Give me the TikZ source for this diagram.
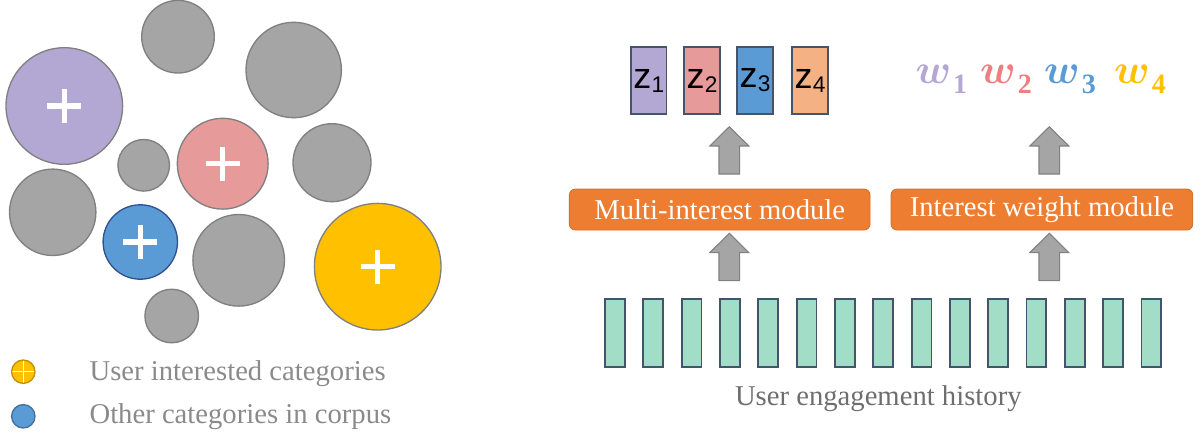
\documentclass[tikz,border=0pt]{standalone}
\usepackage[no-math]{fontspec}
\usepackage{graphicx}
\setmainfont{Liberation Serif}
\newfontfamily\arialfont{Liberation Sans}

\definecolor{catgray}{HTML}{A5A5A5}
\definecolor{catedge}{HTML}{808080}
\definecolor{catpurple}{HTML}{B3A7D4}
\definecolor{catpink}{HTML}{E69A99}
\definecolor{catblue}{HTML}{5B9BD5}
\definecolor{catblueedge}{HTML}{2F528F}
\definecolor{catyellow}{HTML}{FFC000}
\definecolor{legyellowedge}{HTML}{BF9000}
\definecolor{legblueedge}{HTML}{41719C}
\definecolor{zorange}{HTML}{F4B183}
\definecolor{slate}{HTML}{44546A}
\definecolor{mint}{HTML}{A2DDC8}
\definecolor{modorange}{HTML}{ED7D31}
\definecolor{modedge}{HTML}{C9712F}
\definecolor{wpink}{HTML}{EE7F80}
\definecolor{legtext}{HTML}{8A8A8A}
\definecolor{histtext}{HTML}{6E6E6E}

\newcommand{\zlabel}[1]{{\arialfont\fontsize{27pt}{27pt}\selectfont z\kern0.3pt\raisebox{-3pt}{\fontsize{17pt}{17pt}\selectfont #1}}}
\newcommand{\wlabel}[1]{{\scalebox{1.25}{\fontsize{24.88pt}{26pt}\selectfont\boldmath$w$}\kern1.5pt\raisebox{-7.5pt}{\fontsize{21pt}{21pt}\selectfont\bfseries #1}}}

\tikzset{
  cat/.style={circle, inner sep=0pt, minimum size=#1*1.5pt, draw=catedge, line width=1pt},
  graycat/.style={cat=#1, fill=catgray},
  plusmark/.style={path picture={
      \fill[white] ([xshift=-12.75pt,yshift=-1.9pt]path picture bounding box.center)
                   rectangle ([xshift=12.75pt,yshift=1.9pt]path picture bounding box.center);
      \fill[white] ([xshift=-1.9pt,yshift=-12.75pt]path picture bounding box.center)
                   rectangle ([xshift=1.9pt,yshift=12.75pt]path picture bounding box.center);}},
  legplus/.style={path picture={
      \draw[white, line width=0.9pt]
        ([xshift=-9pt]path picture bounding box.center) -- ([xshift=9pt]path picture bounding box.center)
        ([yshift=-9pt]path picture bounding box.center) -- ([yshift=9pt]path picture bounding box.center);}},
  zbox/.style={draw=slate, line width=1.3pt, fill=#1, minimum width=26.6pt, minimum height=50.7pt, inner sep=0pt},
  histbar/.style={draw=slate, line width=1.3pt, fill=mint, minimum width=14.8pt, minimum height=50.5pt, inner sep=0pt},
  module/.style={draw=modedge, line width=0.6pt, fill=modorange, rounded corners=4.5pt,
      minimum height=30.75pt, inner sep=0pt, text=white, font=\fontsize{21.5pt}{21.5pt}\selectfont},
  legtxt/.style={anchor=base west, inner sep=0pt, text=legtext, font=\fontsize{21.5pt}{21.5pt}\selectfont},
  uparrow/.pic={
    \draw[draw=catedge, fill=catgray, line width=0.8pt, line join=miter]
      (0,0) -- (19.5,19.3) -- (10.3,19.3) -- (10.3,47.3) -- (-10.3,47.3)
      -- (-10.3,19.3) -- (-19.5,19.3) -- cycle;}
}

\begin{document}
\begin{tikzpicture}[x=0.75pt, y=-0.75pt]
\useasboundingbox (0,0) rectangle (1201,435);

% category bubbles
\node[graycat=36.3] (g1) at (178,36.7) {};
\node[graycat=47.7] (g2) at (293.7,70) {};
\node[cat=58.3, fill=catpurple, plusmark] (cpurple) at (64.3,106) {};
\node[graycat=25.8] (g3) at (143.7,165.3) {};
\node[cat=45.4, fill=catpink, plusmark] (cpink) at (222.7,163.7) {};
\node[graycat=39] (g4) at (332,162.7) {};
\node[graycat=43.2] (g5) at (52.7,212.3) {};
\node[cat=37.2, fill=catblue, draw=catblueedge, plusmark] (cblue) at (140.3,242) {};
\node[graycat=45.8] (g6) at (238.7,260.3) {};
\node[cat=63.3, fill=catyellow, plusmark] (cyellow) at (377.7,266.7) {};
\node[graycat=26.8] (g7) at (171.7,316) {};

% legend
\node[cat=11.7, fill=catyellow, draw=legyellowedge, legplus] (legA) at (23.3,371.7) {};
\node[cat=11.7, fill=catblue, draw=legblueedge] (legB) at (23.3,416.3) {};
\node[legtxt] (legAtxt) at (89.3,380) {User interested categories};
\node[legtxt] (legBtxt) at (89.3,423.3) {Other categories in corpus};

% interest embeddings
\node[zbox=catpurple] (z1) at (648.8,80.5) {\zlabel{1}};
\node[zbox=catpink]   (z2) at (702,80.5) {\zlabel{2}};
\node[zbox=catblue]   (z3) at (755,80.5) {\zlabel{3}};
\node[zbox=zorange]   (z4) at (810,80.5) {\zlabel{4}};

% interest weights
\node[anchor=base, inner sep=0pt, text=catpurple] (w1) at (941.3,83.3) {\wlabel{1}};
\node[anchor=base, inner sep=0pt, text=wpink]     (w2) at (1006,83.3) {\wlabel{2}};
\node[anchor=base, inner sep=0pt, text=catblue]   (w3) at (1070,83.3) {\wlabel{3}};
\node[anchor=base, inner sep=0pt, text=catyellow] (w4) at (1140,83.3) {\wlabel{4}};

% modules
\node[module, minimum width=225.5pt] (multi) at (719.7,209.5) {Multi-interest module};
\node[module, minimum width=226.3pt] (weight) at (1041.9,209.5) {Interest weight module};

% block arrows
\coordinate (tipMultiUp) at (729.3,126.7);
\coordinate (tipWeightUp) at (1049.3,126.7);
\coordinate (tipMultiIn) at (729.3,233.3);
\coordinate (tipWeightIn) at (1049.3,233.3);
\pic at (tipMultiUp) {uparrow};
\pic at (tipWeightUp) {uparrow};
\pic at (tipMultiIn) {uparrow};
\pic at (tipWeightIn) {uparrow};

% engagement history
\foreach \i in {0,...,14} {
  \node[histbar] (h\i) at ({614.85+38.33*\i},333) {};
}
\node[anchor=base, inner sep=0pt, text=histtext, font=\fontsize{21.5pt}{21.5pt}\selectfont] (histlbl) at (878.3,405) {User engagement history};
\end{tikzpicture}
\end{document}
